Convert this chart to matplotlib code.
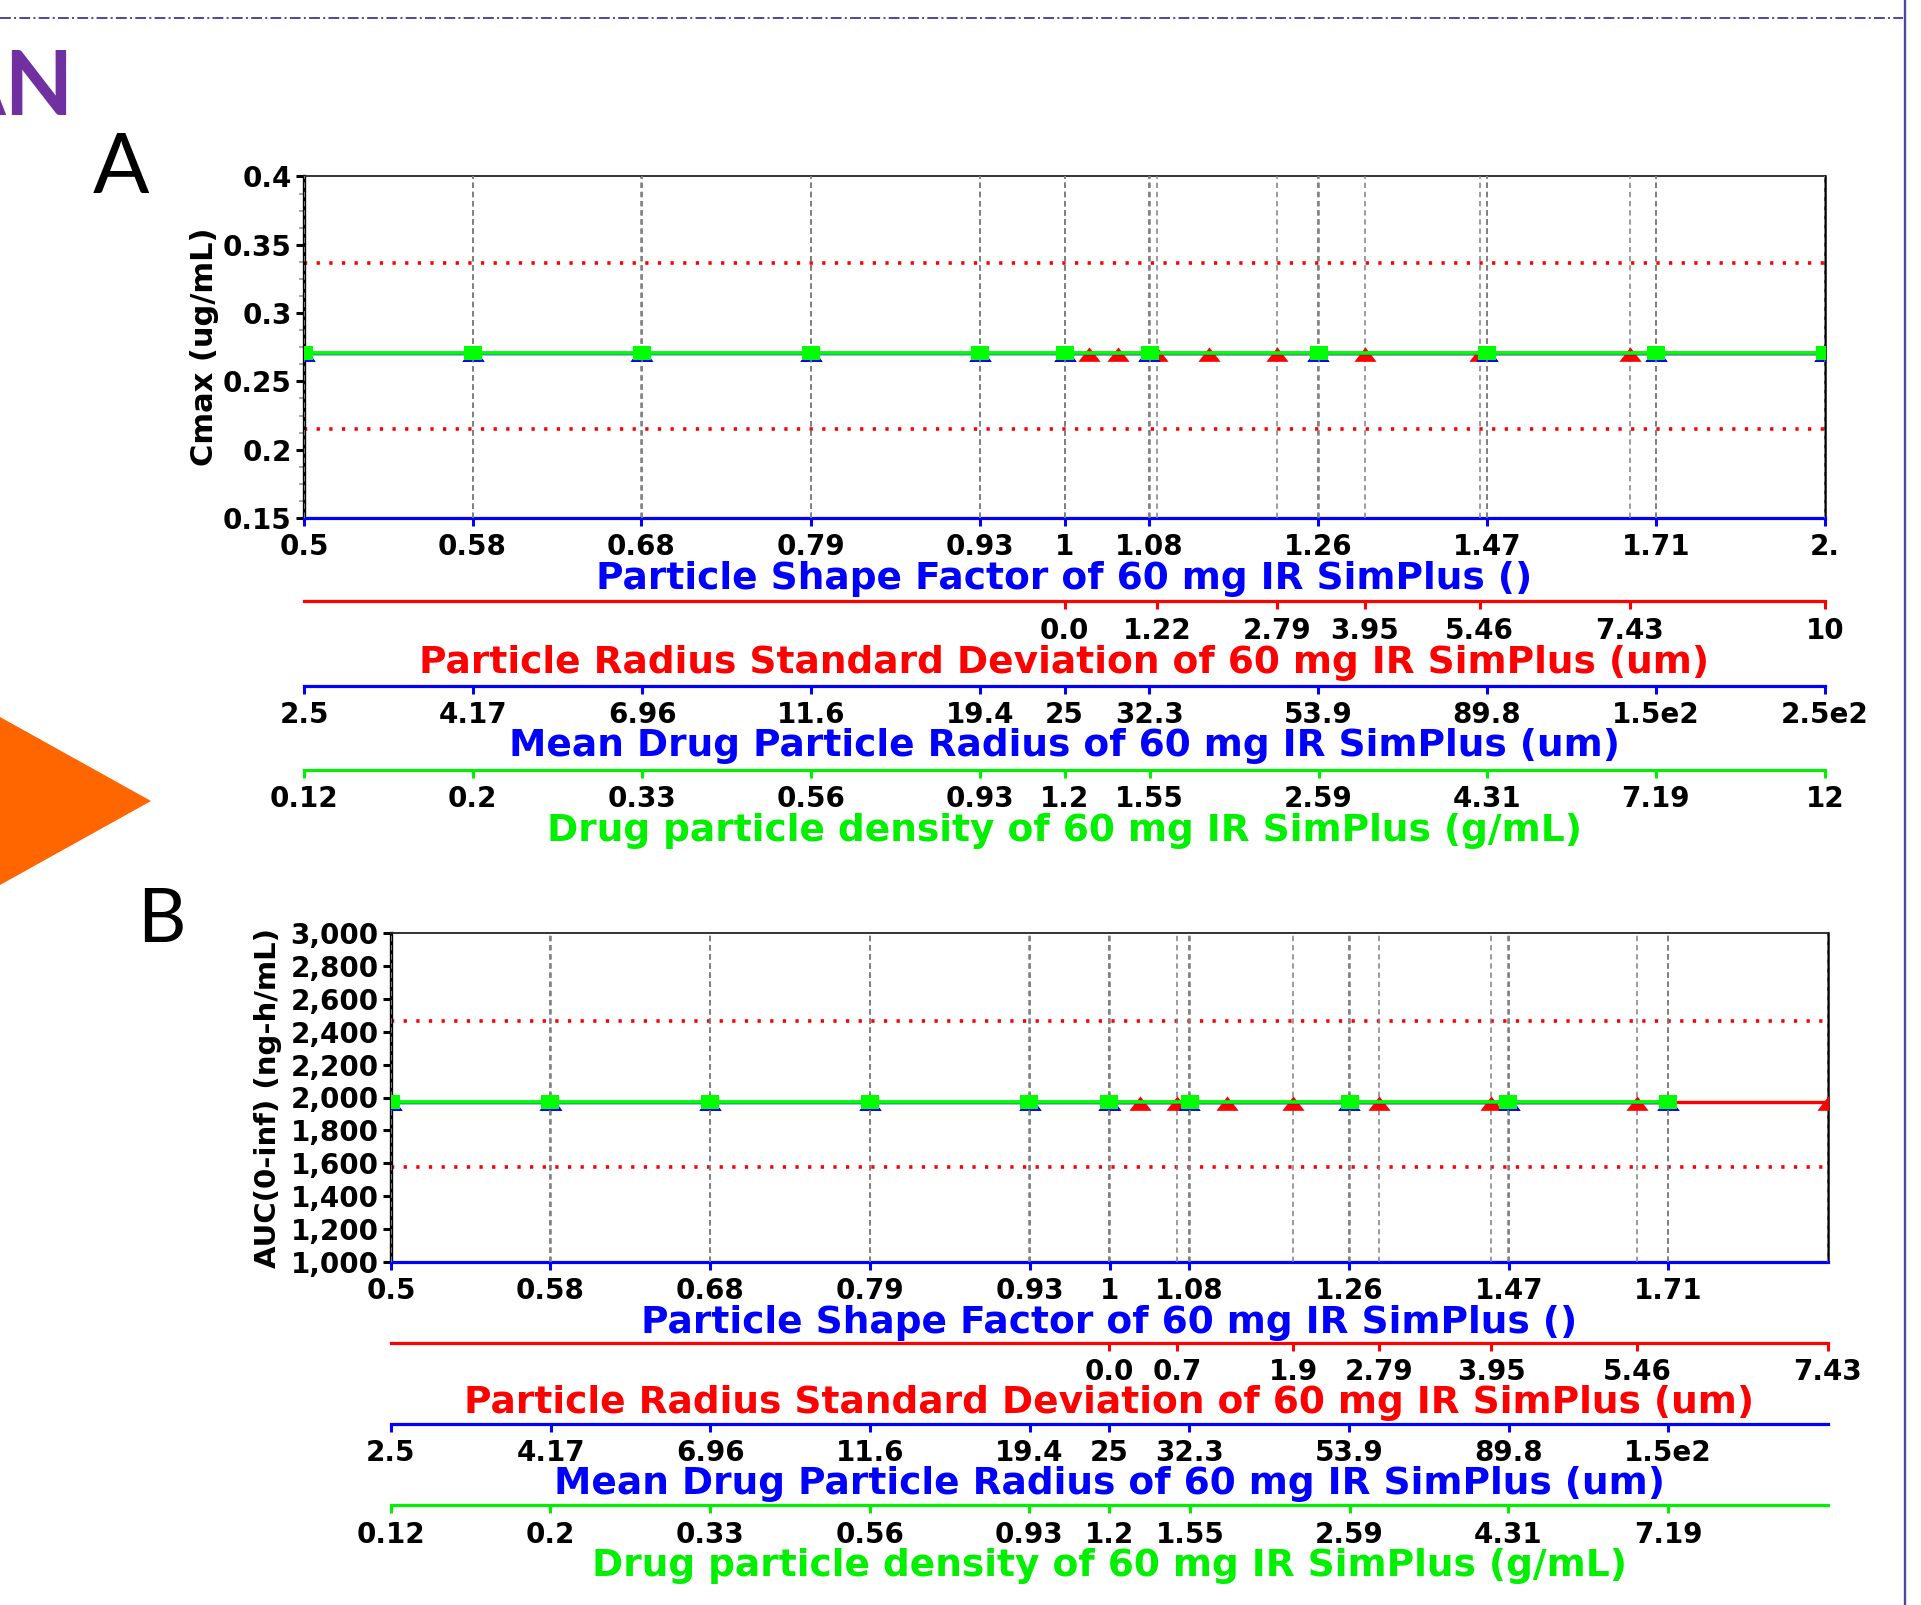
import matplotlib
matplotlib.use("Agg")
import matplotlib.pyplot as plt
import matplotlib.transforms as mtransforms
from matplotlib.lines import Line2D
from matplotlib.patches import Polygon
from matplotlib.ticker import AutoMinorLocator, NullLocator

W, H, DPI = 1921, 1605, 100
TICK_FS = 20
TITLE_FS = 27

BLUE = "#0000ff"
RED = "#ff0000"
GREEN = "#00f000"

# x values of the parameter sensitivity runs (same log steps on every axis)
SHAPE = [0.5, 0.583, 0.680, 0.794, 0.926, 1.0, 1.080, 1.260, 1.470, 1.714, 2.0]
RADIUS = [2.5, 4.17, 6.96, 11.6, 19.35, 25.0, 32.3, 53.9, 89.8, 149.7, 250.0]
DENSITY = [0.12, 0.2, 0.334, 0.557, 0.928, 1.2, 1.553, 2.59, 4.31, 7.19, 12.0]
SD_A = [0.0, 0.32, 0.70, 1.22, 1.9, 2.79, 3.95, 5.46, 7.43, 10.0]
SD_B = [0.0, 0.32, 0.70, 1.22, 1.9, 2.79, 3.95, 5.46, 7.43]

SHAPE_LABELS = ["0.5", "0.58", "0.68", "0.79", "0.93", "1", "1.08", "1.26", "1.47", "1.71", "2."]
RADIUS_LABELS = ["2.5", "4.17", "6.96", "11.6", "19.4", "25", "32.3", "53.9", "89.8", "1.5e2", "2.5e2"]
DENSITY_LABELS = ["0.12", "0.2", "0.33", "0.56", "0.93", "1.2", "1.55", "2.59", "4.31", "7.19", "12"]
SD_TICKS_A = [0.0, 1.22, 2.79, 3.95, 5.46, 7.43, 10.0]
SD_LABELS_A = ["0.0", "1.22", "2.79", "3.95", "5.46", "7.43", "10"]
SD_TICKS_B = [0.0, 0.7, 1.9, 2.79, 3.95, 5.46, 7.43]
SD_LABELS_B = ["0.0", "0.7", "1.9", "2.79", "3.95", "5.46", "7.43"]

# panel A: Cmax (ug/mL)
CMAX_SHAPE = [0.2705, 0.2705, 0.2705, 0.2705, 0.2705, 0.2705, 0.2705, 0.2705, 0.2705, 0.2705, 0.2705]
CMAX_RADIUS = [0.2705, 0.2705, 0.2705, 0.2705, 0.2705, 0.2705, 0.2705, 0.2705, 0.2705, 0.2705, 0.2705]
CMAX_DENSITY = [0.2705, 0.2705, 0.2705, 0.2705, 0.2705, 0.2705, 0.2705, 0.2705, 0.2705, 0.2705, 0.2705]
CMAX_SD = [0.2705, 0.2705, 0.2705, 0.2705, 0.2705, 0.2705, 0.2705, 0.2705, 0.2705, 0.2705]
CMAX_LIMITS = [0.215, 0.337]
CMAX_YTICKS = [0.15, 0.2, 0.25, 0.3, 0.35, 0.4]
CMAX_YLABELS = ["0.15", "0.2", "0.25", "0.3", "0.35", "0.4"]

# panel B: AUC(0-inf) (ng-h/mL)
AUC_SHAPE = [1970, 1970, 1970, 1970, 1970, 1970, 1970, 1970, 1970, 1970]
AUC_RADIUS = [1970, 1970, 1970, 1970, 1970, 1970, 1970, 1970, 1970, 1970]
AUC_DENSITY = [1970, 1970, 1970, 1970, 1970, 1970, 1970, 1970, 1970, 1970]
AUC_SD = [1970, 1970, 1970, 1970, 1970, 1970, 1970, 1970, 1970]
AUC_LIMITS = [1576, 2463]
AUC_YTICKS = [1000, 1200, 1400, 1600, 1800, 2000, 2200, 2400, 2600, 2800, 3000]
AUC_YLABELS = ["1,000", "1,200", "1,400", "1,600", "1,800", "2,000",
               "2,200", "2,400", "2,600", "2,800", "3,000"]

TITLE_SHAPE = "Particle Shape Factor of 60 mg IR SimPlus ()"
TITLE_SD = "Particle Radius Standard Deviation of 60 mg IR SimPlus (um)"
TITLE_RADIUS = "Mean Drug Particle Radius of 60 mg IR SimPlus (um)"
TITLE_DENSITY = "Drug particle density of 60 mg IR SimPlus (g/mL)"

# wide flat markers (the original picture is stretched sideways)
TRI = [(0, 0.55), (-1, -0.75), (1, -0.75)]
SQR = [(-1, -0.72), (1, -0.72), (1, 0.78), (-1, 0.78)]

plt.rcParams["font.family"] = "DejaVu Sans"
plt.rcParams["font.weight"] = "bold"
plt.rcParams["axes.labelweight"] = "bold"


def px_rect(left, top, right, bottom):
    """Axes rectangle from pixel edges"""
    return [left / W, 1 - bottom / H, (right - left) / W, (bottom - top) / H]


def style_x(ax, ticks, labels, color, title, base_px, offset_pt=None):
    """One coloured parameter axis under the plot"""
    if offset_pt is not None:
        ax.xaxis.set_ticks_position("bottom")
        ax.xaxis.set_label_position("bottom")
        ax.spines["bottom"].set_position(("outward", offset_pt))
        for s in ("top", "left", "right"):
            ax.spines[s].set_visible(False)
    ax.spines["bottom"].set_color(color)
    ax.spines["bottom"].set_linewidth(2.3)
    ax.set_xticks(ticks, labels)
    ax.xaxis.set_minor_locator(NullLocator())
    ax.tick_params(axis="x", which="major", direction="out", length=6, width=2.2,
                   color=color, pad=5, labelsize=TICK_FS, labelcolor="black")
    ax.grid(axis="x", which="major", color="#808080", linestyle=(0, (3.5, 2.5)), linewidth=1.1)
    ax.set_xlabel(title, color=color, fontsize=TITLE_FS, fontweight="bold")
    tr = mtransforms.blended_transform_factory(ax.transAxes, ax.figure.transFigure)
    ax.xaxis.set_label_coords(0.5, 1 - base_px / H, transform=tr)
    ax.xaxis.label.set_verticalalignment("baseline")


def draw_panel(fig, box, ylim, yticks, ylabels, ylabel, ylabel_px, ylabel_fs, minor_n,
               limits, data, sd_lim, sd_ticks, sd_labels, n_ticks, offsets, bases):
    """Host axes (shape factor) plus three twin axes pushed below it"""
    ax = fig.add_axes(px_rect(*box))
    ax.set_xscale("log")
    ax.set_xlim(SHAPE[0], SHAPE[-1])
    ax.set_ylim(*ylim)
    ax.set_yticks(yticks, ylabels)
    if minor_n:
        ax.yaxis.set_minor_locator(AutoMinorLocator(minor_n))
    ax.tick_params(axis="y", which="major", direction="out", length=6, width=2.2,
                   color="black", pad=3, labelsize=TICK_FS)
    ax.tick_params(axis="y", which="minor", direction="out", length=3.5, width=1.2, color="#9a9a9a")
    ax.spines["left"].set_linewidth(2.4)
    ax.spines["top"].set_linewidth(1.3)
    ax.spines["top"].set_color("#222222")
    ax.spines["right"].set_linewidth(1.8)
    ax.set_ylabel(ylabel, fontsize=ylabel_fs, fontweight="bold")
    ax.yaxis.set_label_coords(ylabel_px / W, 0.5,
                              transform=mtransforms.blended_transform_factory(fig.transFigure, ax.transAxes))
    style_x(ax, SHAPE[:n_ticks], SHAPE_LABELS[:n_ticks], BLUE, TITLE_SHAPE, bases[0])

    for lim in limits:
        ax.axhline(lim, color=RED, lw=2.6, linestyle=(0, (0.9, 2.6)), zorder=2.5)

    y_shape, y_radius, y_density, y_sd = data
    n = len(y_shape)
    ax.plot(SHAPE[:n], y_shape, color=BLUE, lw=2.4, marker=TRI, ms=16, mew=0, zorder=3)

    ax_sd = ax.twiny()
    ax_sd.set_xlim(*sd_lim)
    style_x(ax_sd, sd_ticks, sd_labels, RED, TITLE_SD, bases[1], offsets[0])
    sd_x = SD_A if len(y_sd) == len(SD_A) else SD_B
    ax_sd.plot(sd_x, y_sd, color=RED, lw=2.4, marker=TRI, ms=16, mew=0, zorder=3)

    ax_rad = ax.twiny()
    ax_rad.set_xscale("log")
    ax_rad.set_xlim(RADIUS[0], RADIUS[-1])
    style_x(ax_rad, RADIUS[:n_ticks], RADIUS_LABELS[:n_ticks], BLUE, TITLE_RADIUS, bases[2], offsets[1])
    ax_rad.plot(RADIUS[:n], y_radius, color=BLUE, lw=2.4, marker=TRI, ms=16, mew=0, zorder=3)

    ax_den = ax.twiny()
    ax_den.set_xscale("log")
    ax_den.set_xlim(DENSITY[0], DENSITY[-1])
    style_x(ax_den, DENSITY[:n_ticks], DENSITY_LABELS[:n_ticks], GREEN, TITLE_DENSITY, bases[3], offsets[2])
    ax_den.plot(DENSITY[:n], y_density, color="#00ff00", lw=2.6, marker=SQR, ms=13.5, mew=0, zorder=3)
    return ax


def decorate(fig):
    """Slide pieces around the charts"""
    fig.add_artist(Line2D([0, 1903 / W], [1 - 18 / H, 1 - 18 / H], transform=fig.transFigure,
                          color="#3c3c96", lw=1.3, linestyle=(0, (6, 1.8, 1.1, 1.8))))
    fig.add_artist(Line2D([1905 / W, 1905 / W], [0, 1], transform=fig.transFigure,
                          color="#4a4aa0", lw=1.7))
    fig.add_artist(Polygon([(0, 1 - 717 / H), (151 / W, 1 - 801 / H), (0, 1 - 885 / H)],
                           closed=True, transform=fig.transFigure, color="#ff6600", lw=0))
    # slide title runs off the left edge, as in the original slide
    fig.text(74 / W, 1 - 115 / H, "AN", ha="right", va="baseline", color="#7030a0",
             fontsize=64, fontweight="bold", family="Lato")
    fig.text(93 / W, 1 - 193 / H, "A", ha="left", va="baseline", color="black",
             fontsize=60, fontweight="normal", family="Lato")
    fig.text(137 / W, 1 - 942 / H, "B", ha="left", va="baseline", color="black",
             fontsize=54, fontweight="normal", family="Lato")


if __name__ == "__main__":
    fig = plt.figure(figsize=(W / DPI, H / DPI), dpi=DPI)
    fig.patch.set_facecolor("white")

    draw_panel(fig, (304, 176.5, 1825, 518), (0.15, 0.4), CMAX_YTICKS, CMAX_YLABELS,
               "Cmax (ug/mL)", 219, 22, 4, CMAX_LIMITS,
               (CMAX_SHAPE, CMAX_RADIUS, CMAX_DENSITY, CMAX_SD),
               (-10, 10), SD_TICKS_A, SD_LABELS_A, 11,
               (60.1, 121.0, 181.4), (589, 673, 756, 841))

    draw_panel(fig, (391, 933, 1828, 1262), (1000, 3000), AUC_YTICKS, AUC_YLABELS,
               "AUC(0-inf) (ng-h/mL)", 282, 21, 0, AUC_LIMITS,
               (AUC_SHAPE, AUC_RADIUS, AUC_DENSITY, AUC_SD),
               (-7.43, 7.43), SD_TICKS_B, SD_LABELS_B, 10,
               (58.3, 116.6, 175.3), (1333, 1413, 1494, 1576))

    decorate(fig)
    fig.savefig("out.png", dpi=DPI)
